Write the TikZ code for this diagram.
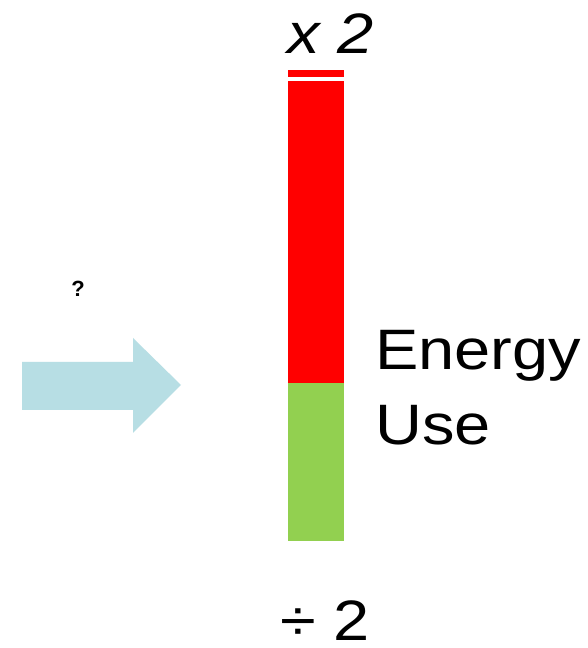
\documentclass[tikz,border=0pt]{standalone}
\usepackage{fontspec}
\setmainfont{Liberation Sans}
\newfontfamily\widefont[FakeStretch=1.14]{Liberation Sans}
\definecolor{barred}{RGB}{255,0,0}
\definecolor{bargreen}{RGB}{146,208,80}
\definecolor{arrowblue}{RGB}{183,222,228}
\tikzset{
  bigtext/.style={inner sep=0pt, anchor=base west, font=\widefont\fontsize{57}{60}\selectfont},
}
\begin{document}
\begin{tikzpicture}[x=1pt,y=1pt]
\useasboundingbox (0,0) rectangle (588,648);
\fill[white] (0,0) rectangle (588,648);
% bar
\fill[barred] (288,571) rectangle (344,578);
\fill[barred] (288,265) rectangle (344,567);
\fill[bargreen] (288,107) rectangle (344,265);
% arrow
\fill[arrowblue] (22,286) -- (133,286) -- (133,310) -- (181,263) -- (133,215) -- (133,238) -- (22,238) -- cycle;
% texts
\node[bigtext, font=\widefont\fontsize{57}{60}\selectfont\itshape] (times) at (287,594) {x 2};
\node[bigtext, text depth=0pt] (div) at (280,8) {÷ 2};
\node[bigtext] (energy) at (375,278) {Energy};
\node[bigtext] (use) at (375,203) {Use};
\node[inner sep=0pt, anchor=base, font=\fontsize{22}{24}\selectfont\bfseries] (q) at (78,351) {?};
\end{tikzpicture}
\end{document}
